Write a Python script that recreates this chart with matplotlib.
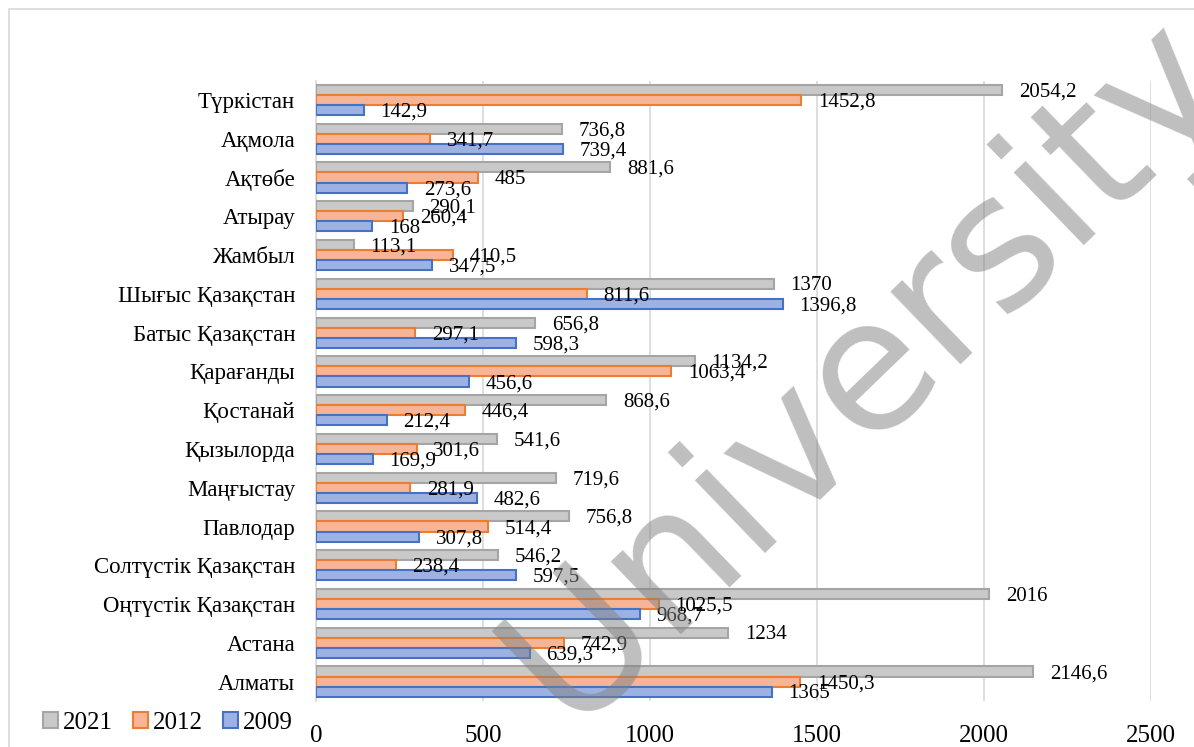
import matplotlib
matplotlib.use("Agg")
import matplotlib.pyplot as plt
from matplotlib.patches import Patch, Rectangle
import numpy as np

plt.rcParams['font.family'] = ['Liberation Serif', 'DejaVu Serif']

regions = ["Түркістан", "Ақмола", "Ақтөбе", "Атырау", "Жамбыл",
           "Шығыс Қазақстан", "Батыс Қазақстан", "Қарағанды", "Қостанай",
           "Қызылорда", "Маңғыстау", "Павлодар", "Солтүстік Қазақстан",
           "Оңтүстік Қазақстан", "Астана", "Алматы"]
v2021 = [2054.2, 736.8, 881.6, 290.1, 113.1, 1370, 656.8, 1134.2, 868.6,
         541.6, 719.6, 756.8, 546.2, 2016, 1234, 2146.6]
v2012 = [1452.8, 341.7, 485, 260.4, 410.5, 811.6, 297.1, 1063.4, 446.4,
         301.6, 281.9, 514.4, 238.4, 1025.5, 742.9, 1450.3]
v2009 = [142.9, 739.4, 273.6, 168, 347.5, 1396.8, 598.3, 456.6, 212.4,
         169.9, 482.6, 307.8, 597.5, 968.7, 639.3, 1365]
years = ["2021", "2012", "2009"]

fills = ["#c9c9c9", "#f7b597", "#9db2e2"]
edges = ["#a5a5a5", "#ed7d31", "#4472c4"]

W, H = 1194, 747
fig = plt.figure(figsize=(W / 100, H / 100), dpi=100)
ax = fig.add_axes([316 / W, 1 - 701 / H, (1151 - 316) / W, (701 - 80.6) / H])

# outer chart border
fig.patches.append(Rectangle((9 / W, -0.1), 1.2, 1 - 9 / H + 0.1,
                             transform=fig.transFigure, fill=False,
                             edgecolor="#d9d9d9", lw=1.2))

n = len(regions)
y = np.arange(n)
bh = 0.26
series = [v2021, v2012, v2009]
for i, vals in enumerate(series):
    pos = y + (i - 1) * bh
    ax.barh(pos, vals, height=bh, color=fills[i], edgecolor=edges[i],
            linewidth=1.5, zorder=3)
    for p, v in zip(pos, vals):
        txt = f"{v:g}".replace(".", ",")
        ax.annotate(txt, (v, p), xytext=(12, -1.5), textcoords="offset points",
                    ha="left", va="center", fontsize=15, zorder=5)

ax.set_xlim(0, 2500)
ax.set_ylim(n - 0.5, -0.5)
ax.set_xticks(np.arange(0, 2501, 500))
ax.set_yticks(y)
ax.set_yticklabels(regions, fontsize=16.5)
ax.tick_params(axis="x", labelsize=18, length=0, pad=17)
ax.tick_params(axis="y", length=0, pad=15)
ax.grid(axis="x", color="#d9d9d9", lw=1.2, zorder=0)
for s in ["top", "right", "bottom"]:
    ax.spines[s].set_visible(False)
ax.spines["left"].set_color("#d9d9d9")
ax.spines["left"].set_linewidth(1.2)

handles = [Patch(facecolor=fills[i], edgecolor=edges[i], lw=1.5) for i in range(3)]
fig.legend(handles, years, loc="center", bbox_to_anchor=(168 / W, 24 / H),
           ncol=3, frameon=False, fontsize=18, handlelength=0.6,
           handleheight=0.6, handletextpad=0.2, columnspacing=0.8)

# document watermark
fig.text(0.725, 0.505, "University", fontsize=132, family="DejaVu Sans",
         color="#808080", alpha=0.5, rotation=44, ha="center", va="center",
         zorder=10)

fig.savefig("out.png", dpi=100)
